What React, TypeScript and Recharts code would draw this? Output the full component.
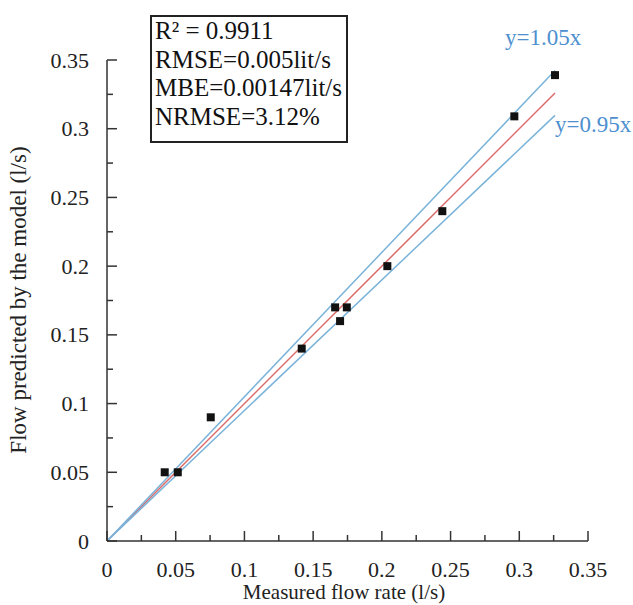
import { ScatterChart, Scatter, XAxis, YAxis, ZAxis, ReferenceLine } from "recharts";

// measured vs predicted flow (l/s)
const measuredFlow = [0.042, 0.0515, 0.0755, 0.1417, 0.166, 0.1745, 0.1696, 0.204, 0.244, 0.2964, 0.326];
const predictedFlow = [0.05, 0.05, 0.09, 0.14, 0.17, 0.17, 0.16, 0.2, 0.24, 0.309, 0.339];

const axisTicks = [0, 0.025, 0.05, 0.075, 0.1, 0.125, 0.15, 0.175, 0.2, 0.225, 0.25, 0.275, 0.3, 0.325, 0.35];
const tickLabels = ["0", "0.05", "0.1", "0.15", "0.2", "0.25", "0.3", "0.35"];

const refSlopes = [1, 1.05, 0.95];
const refLineEnd = 0.326;
const refLabels = ["y=1.05x", "y=0.95x"];

const statsLines = ["R² = 0.9911", "RMSE=0.005lit/s", "MBE=0.00147lit/s", "NRMSE=3.12%"];

const points = measuredFlow.map((x, i) => ({ x, y: predictedFlow[i] }));

const FONT = "Liberation Serif";
const AXIS = "#333";
const BLUE = "#7ab3d9";
const RED = "#dc6b6b";

const BottomTick = (props: any) => {
  const { x, y, index } = props;
  const major = index % 2 === 0;
  return (
    <g>
      <line x1={x} y1={y} x2={x} y2={y - (major ? 10 : 6)} stroke={AXIS} strokeWidth={1.5} />
      {major && (
        <text x={x} y={y + 36} textAnchor="middle" fill="#222" fontFamily={FONT} fontSize={22}>
          {tickLabels[index / 2]}
        </text>
      )}
    </g>
  );
};

const LeftTick = (props: any) => {
  const { x, y, index } = props;
  const major = index % 2 === 0;
  return (
    <g>
      <line x1={x} y1={y} x2={x + (major ? 10 : 6)} y2={y} stroke={AXIS} strokeWidth={1.5} />
      {major && (
        <text x={x - 18} y={y + 7.5} textAnchor="end" fill="#222" fontFamily={FONT} fontSize={22}>
          {tickLabels[index / 2]}
        </text>
      )}
    </g>
  );
};

export default function App() {
  return (
    <div style={{ position: "absolute", left: 0, top: 0, width: 633, height: 605, background: "#fff", fontFamily: FONT }}>
      <ScatterChart width={633} height={605} margin={{ top: 60, right: 45, bottom: 0, left: 0 }}>
        <XAxis
          type="number"
          dataKey="x"
          domain={[0, 0.35]}
          ticks={axisTicks}
          interval={0}
          height={64}
          tickSize={0}
          tickMargin={0}
          tickLine={false}
          axisLine={{ stroke: AXIS, strokeWidth: 1.5 }}
          tick={(p: any) => <BottomTick {...p} />}
        />
        <YAxis
          type="number"
          dataKey="y"
          domain={[0, 0.35]}
          ticks={axisTicks}
          interval={0}
          width={107}
          tickSize={0}
          tickMargin={0}
          tickLine={false}
          axisLine={{ stroke: AXIS, strokeWidth: 1.5 }}
          tick={(p: any) => <LeftTick {...p} />}
        />
        <ZAxis type="number" range={[125, 125]} />
        {refSlopes.map((s, i) => (
          <ReferenceLine
            key={s}
            segment={[
              { x: 0, y: 0 },
              { x: refLineEnd, y: s * refLineEnd },
            ]}
            stroke={i === 0 ? RED : BLUE}
            strokeWidth={1.5}
            ifOverflow="visible"
          />
        ))}
        <Scatter data={points} shape="square" fill="#111" isAnimationActive={false} />
      </ScatterChart>

      <svg
        width={633}
        height={605}
        style={{ position: "absolute", left: 0, top: 0, pointerEvents: "none" }}
      >
        <text x={344} y={599} textAnchor="middle" fill="#222" fontFamily={FONT} fontSize={21}>
          Measured flow rate (l/s)
        </text>
        <text
          transform="translate(26,300) rotate(-90)"
          textAnchor="middle"
          fill="#222"
          fontFamily={FONT}
          fontSize={23}
        >
          Flow predicted by the model (l/s)
        </text>
        <text x={505} y={45} fill="#4d8fcf" fontFamily={FONT} fontSize={23}>
          {refLabels[0]}
        </text>
        <text x={555} y={132} fill="#4d8fcf" fontFamily={FONT} fontSize={23}>
          {refLabels[1]}
        </text>
      </svg>

      <div
        style={{
          position: "absolute",
          left: 150,
          top: 15,
          width: 198,
          height: 128,
          boxSizing: "border-box",
          border: "2px solid #222",
          background: "#fff",
          paddingLeft: 3,
          fontFamily: FONT,
          fontSize: 25,
          lineHeight: "28.5px",
          color: "#111",
          whiteSpace: "nowrap",
        }}
      >
        {statsLines.map((t) => (
          <div key={t}>{t}</div>
        ))}
      </div>
    </div>
  );
}
